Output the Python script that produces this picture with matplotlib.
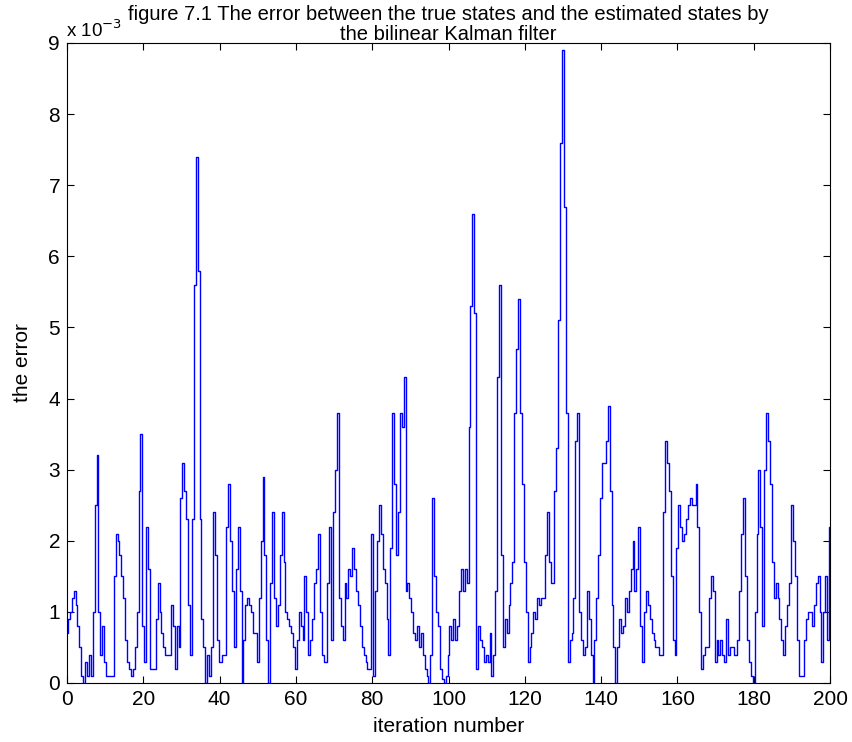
import numpy as np
import matplotlib.pyplot as plt

plt.rcParams['font.family'] = ['Liberation Sans', 'DejaVu Sans']

# error values in units of 1e-3, two samples per iteration (0, 0.5, 1, ... 200)
err_milli = [
    0.7, 0.9, 1.0, 1.2, 1.3, 1.1, 0.8, 0.5, 0.1, 0.0,
    0.3, 0.1, 0.4, 0.1, 1.0, 2.5, 3.2, 1.0, 0.4, 0.8,
    0.3, 0.1, 0.1, 0.1, 0.1, 1.5, 2.1, 2.0, 1.8, 1.5,
    1.2, 0.6, 0.3, 0.2, 0.1, 0.2, 0.5, 1.0, 2.7, 3.5,
    0.8, 0.3, 2.2, 1.6, 0.2, 0.2, 0.2, 0.9, 1.4, 1.0,
    0.7, 0.5, 0.4, 0.4, 0.4, 1.1, 0.8, 0.2, 0.8, 0.5,
    2.6, 3.1, 2.7, 2.3, 1.1, 0.4, 2.3, 5.6, 7.4, 5.8,
    2.3, 0.9, 0.5, 0.0, 0.4, 0.1, 0.5, 2.4, 1.8, 0.6,
    0.3, 0.3, 0.4, 0.4, 2.2, 2.8, 2.0, 1.3, 0.5, 1.6,
    2.2, 1.3, 0.0, 0.6, 1.1, 1.2, 1.1, 1.0, 0.7, 0.7,
    0.3, 1.2, 2.0, 2.9, 1.8, 0.6, 0.0, 1.4, 2.4, 1.2,
    0.8, 1.1, 1.8, 2.4, 1.7, 1.0, 0.9, 0.8, 0.7, 0.5,
    0.2, 0.6, 1.0, 0.8, 0.6, 1.5, 1.0, 0.4, 0.6, 0.9,
    1.4, 1.6, 2.1, 1.0, 0.4, 0.3, 0.3, 1.4, 2.2, 0.6,
    2.4, 3.0, 3.8, 1.2, 0.8, 0.6, 1.4, 1.2, 1.6, 1.5,
    1.9, 1.6, 1.3, 1.1, 0.8, 0.5, 0.4, 0.3, 0.2, 0.2,
    2.1, 0.1, 1.3, 2.0, 2.5, 2.1, 1.6, 1.4, 0.9, 0.4,
    1.9, 3.8, 2.8, 1.8, 2.4, 3.8, 3.6, 4.3, 1.3, 1.4,
    1.2, 1.0, 0.7, 0.6, 0.8, 0.5, 0.7, 0.4, 0.2, 0.1,
    0.0, 0.4, 2.6, 1.5, 1.0, 0.8, 0.2, 0.05, 0.0, 0.1,
    0.4, 0.8, 0.6, 0.9, 0.6, 0.8, 1.3, 1.6, 1.3, 1.6,
    1.4, 3.6, 5.3, 6.6, 5.2, 0.2, 0.8, 0.6, 0.5, 0.3,
    0.4, 0.3, 0.7, 0.1, 0.4, 1.3, 4.3, 5.6, 1.8, 0.5,
    0.9, 0.7, 1.1, 1.4, 1.7, 3.8, 4.7, 5.4, 3.8, 2.8,
    1.7, 1.0, 0.3, 0.5, 0.7, 1.0, 0.9, 1.2, 1.1, 1.2,
    1.2, 1.8, 2.4, 1.7, 1.4, 1.4, 2.7, 3.3, 5.1, 7.6,
    8.9, 6.7, 3.8, 0.3, 0.6, 0.7, 1.2, 3.4, 3.8, 1.0,
    0.6, 0.4, 0.5, 1.3, 0.9, 0.4, 0.0, 0.6, 1.2, 1.8,
    2.6, 3.1, 3.1, 3.4, 3.9, 2.7, 1.1, 0.5, 0.0, 0.5,
    0.9, 0.7, 0.8, 1.2, 1.0, 1.3, 1.6, 2.0, 1.3, 1.6,
    2.2, 0.8, 0.3, 1.0, 1.3, 1.1, 0.9, 0.7, 0.6, 0.5,
    0.5, 0.4, 0.4, 2.4, 3.4, 3.1, 2.7, 1.5, 0.6, 0.4,
    1.9, 2.5, 2.2, 2.0, 2.1, 2.3, 2.5, 2.6, 2.5, 2.5,
    2.8, 2.2, 1.0, 0.2, 0.4, 0.5, 0.5, 1.2, 1.5, 1.3,
    0.3, 0.6, 0.4, 0.6, 0.4, 0.3, 0.9, 0.4, 0.5, 0.5,
    0.4, 0.4, 0.6, 1.3, 2.1, 2.6, 1.5, 0.6, 0.3, 0.1,
    0.0, 1.0, 2.1, 3.0, 2.2, 0.8, 3.0, 3.8, 3.4, 2.8,
    1.7, 1.2, 1.4, 1.2, 0.9, 0.6, 0.4, 0.8, 1.1, 1.4,
    2.5, 2.0, 1.5, 0.6, 0.1, 0.1, 0.1, 0.6, 0.9, 1.0,
    1.0, 0.8, 1.1, 1.4, 1.5, 1.0, 0.3, 1.0, 1.5, 0.6,
    2.2,
]
iters = np.arange(len(err_milli)) * 0.5

title_lines = ['figure 7.1 The error between the true states and the estimated states by',
               'the bilinear Kalman filter']

W, H = 852, 742
fig = plt.figure(figsize=(W / 100, H / 100), dpi=100)
ax = fig.add_axes([67 / W, 1 - 683 / H, 763 / W, 640 / H])
ax.plot(iters, err_milli, color='#0000ff', linewidth=1.0, drawstyle='steps-mid')

ax.set_xlim(0, 200)
ax.set_ylim(0, 9)
ax.set_xticks(np.arange(0, 201, 20))
ax.set_yticks(np.arange(0, 10, 1))
ax.tick_params(direction='in', top=True, right=True, labelsize=15, length=5, pad=5)
for s in ax.spines.values():
    s.set_linewidth(0.8)

ax.set_xlabel('iteration number', fontsize=15, labelpad=6)
ax.set_ylabel('the error', fontsize=15, labelpad=12)

cx = (67 + 763 / 2) / W
fig.text(cx, 1 - 20 / H, title_lines[0], fontsize=14.5, ha='center', va='baseline')
fig.text(cx, 1 - 40 / H, title_lines[1], fontsize=14.5, ha='center', va='baseline')
fig.text(66 / W, 1 - 37 / H, r'x 10$^{-3}$', fontsize=13.5, ha='left', va='baseline')

fig.savefig('out.png', dpi=100)
